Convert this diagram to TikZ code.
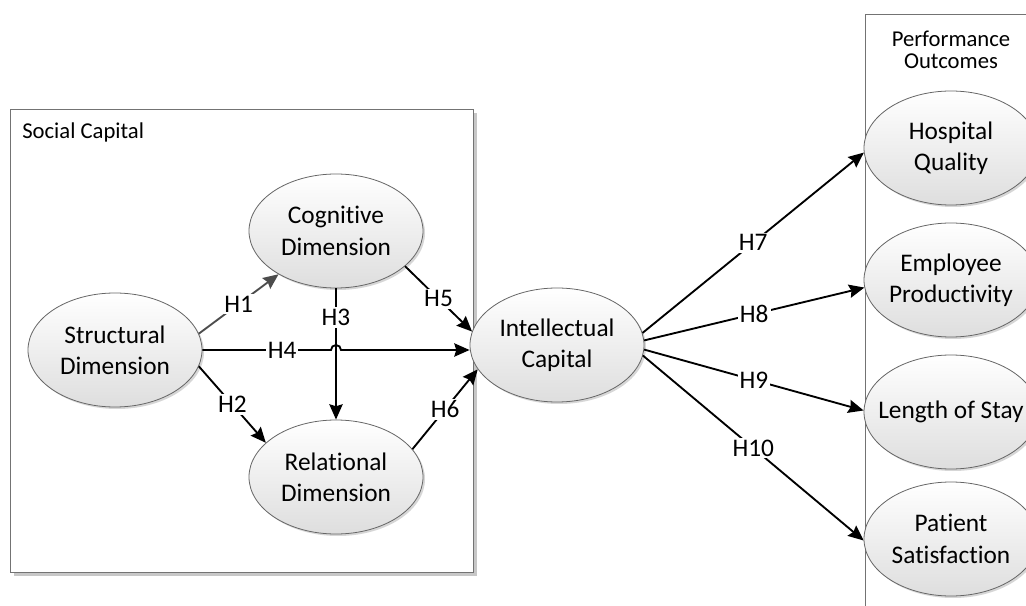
\documentclass[tikz,border=0pt]{standalone}
\usepackage{fontspec}
\setmainfont{Carlito}[Ligatures=NoCommon]
\usetikzlibrary{shapes.geometric,shadows,arrows.meta}
\begin{document}
\begin{tikzpicture}[x=0.75pt,y=-0.75pt,
  panel/.style={rectangle, draw=black!55, line width=0.9pt, fill=white, inner sep=0pt,
    drop shadow={shadow xshift=2.2pt, shadow yshift=-2.2pt, fill=black!22, opacity=1}},
  bubble/.style={ellipse, draw=black!60, line width=0.6pt, top color=white, bottom color=black!13,
    minimum width=130.5pt, minimum height=85.5pt, inner sep=0pt,
    drop shadow={shadow xshift=1.5pt, shadow yshift=-1.5pt, fill=black!35, opacity=0.45}},
  bubbletext/.style={font=\fontsize{19}{23.5}\selectfont, align=center, inner sep=0pt},
  title/.style={font=\fontsize{17}{16.5}\selectfont, align=center, inner sep=0pt},
  link/.style={line width=1.4pt, -{Stealth[length=11.5pt,width=10pt,inset=1.5pt]}},
  hyp/.style={fill=white, inner sep=1.5pt, font=\fontsize{19}{23}\selectfont}
]
\useasboundingbox (0,0) rectangle (1026,606);
\clip (0,0) rectangle (1026,606);

% group frames
\node[panel, anchor=north west, minimum width=347.25pt, minimum height=347.25pt] (sc) at (10,109) {};
\node[title, anchor=base west] (sctitle) at (22,139) {Social Capital};
\node[panel, anchor=north west, minimum width=150pt, minimum height=465pt] (po) at (865,14) {};
\node[title] (potitle) at (951,50) {Performance\\Outcomes};

% constructs
\node[bubble, label={[bubbletext]center:Structural\\Dimension}] (sd) at (115,350) {};
\node[bubble, label={[bubbletext]center:Cognitive\\Dimension}] (cd) at (336,231) {};
\node[bubble, label={[bubbletext]center:Relational\\Dimension}] (rd) at (336,477) {};
\node[bubble, label={[bubbletext]center:Intellectual\\Capital}] (ic) at (557,345) {};
\node[bubble, label={[bubbletext]center:Hospital\\Quality}] (hq) at (951,148) {};
\node[bubble, label={[bubbletext]center:Employee\\Productivity}] (ep) at (951,280) {};
\node[bubble, label={[bubbletext]center:Length of Stay}] (ls) at (951,412) {};
\node[bubble, label={[bubbletext]center:Patient\\Satisfaction}] (ps) at (951,539) {};

% hypotheses
\coordinate (hopL) at (331,350);
\draw[link, draw=black!70] (sd.11) -- node[hyp]{H1} (cd.217);
\draw[link] (sd.349) -- node[hyp]{H2} (rd.154);
\draw[link] (cd.south) -- node[hyp,pos=0.22]{H3} (rd.north);
\draw[link] (sd.east) -- node[hyp,pos=0.62]{H4} (hopL)
  arc[start angle=180, end angle=360, radius=5] -- (sd.east -| ic.west);
\draw[link] (cd.333) -- node[hyp]{H5} (ic.171);
\draw[link] (rd.20) -- node[hyp]{H6} (ic.197);
\draw[link] (ic.8) -- node[hyp]{H7} (hq.183);
\draw[link] (ic.3) -- node[hyp]{H8} (ep.185);
\draw[link] (ic.357) -- node[hyp]{H9} (ls.179);
\draw[link] (ic.353) -- node[hyp]{H10} (ps.181);
\end{tikzpicture}
\end{document}
